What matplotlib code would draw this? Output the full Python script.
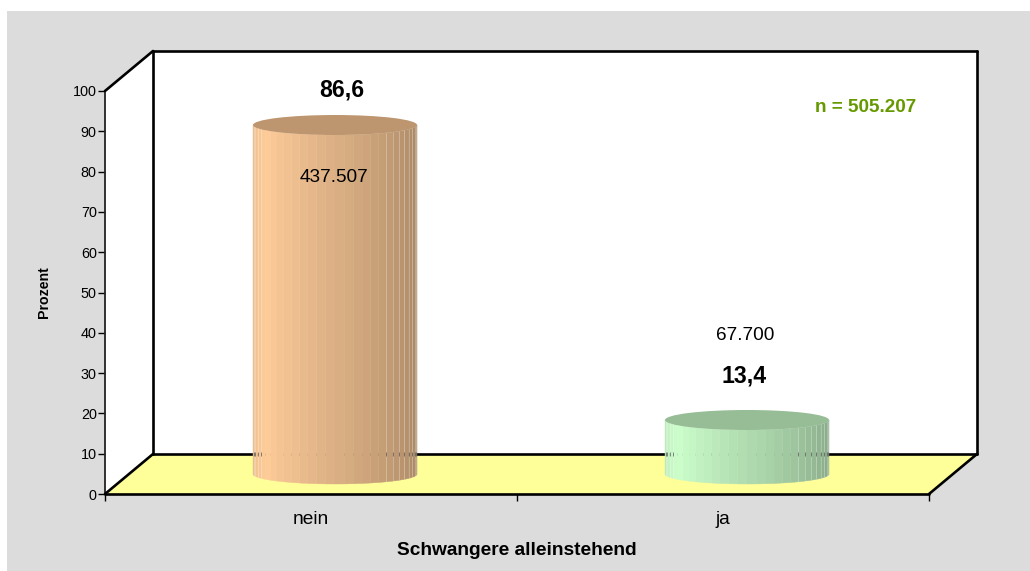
import numpy as np
import matplotlib
matplotlib.use('Agg')
import matplotlib.pyplot as plt
from matplotlib.patches import Rectangle, Polygon, Ellipse

categories = ['nein', 'ja']
percent = [86.6, 13.4]
percent_labels = ['86,6', '13,4']
count_labels = ['437.507', '67.700']
y_ticks = [0, 10, 20, 30, 40, 50, 60, 70, 80, 90, 100]
total_label = 'n = 505.207'

W, H = 1030, 571
plt.rcParams['font.family'] = ['Liberation Sans', 'DejaVu Sans']

# front plane of the fake 3d box, in pixels
left, right, top, bottom = 105, 929, 91, 494
depth_px = 48, 40

side_colors = [(255, 204, 153), (204, 255, 204)]
cap_colors = ['#bd9670', '#96bd96']


def shade(base, t):
    # t runs from 0 (right edge) to pi (left edge)
    p = t / np.pi
    if p > 0.82:
        f = 1 - 0.55 * (p - 0.82)
    else:
        f = 0.64 + 0.36 * p / 0.82
    return tuple(c / 255 * f for c in base)


def draw_cylinder(ax, x, val, base, cap, rx, ry, dy, back):
    # rx in category units, ry in percent units
    angles = np.linspace(0, np.pi, 29)
    for a, b in zip(angles[:-1], angles[1:]):
        ts = np.linspace(a, b, 4)
        xs = x + rx * np.cos(ts)
        low = dy - ry * np.sin(ts)
        high = val + dy - ry * np.sin(ts)
        pts = list(zip(xs, low)) + list(zip(xs[::-1], high[::-1]))
        col = shade(base, (a + b) / 2)
        ax.add_patch(Polygon(pts, closed=True, fc=col, ec=col, lw=0.3, zorder=5, clip_on=False))
    # thin light seams and the back line showing through them, near the edges
    for a in angles[1:-1]:
        if a < np.pi * 0.32 or a > np.pi * 0.85:
            sx = x + rx * np.cos(a)
            ax.plot([sx, sx], [dy - ry * np.sin(a), val + dy - ry * np.sin(a)], color='white',
                    alpha=0.3, lw=0.6, zorder=5.5, clip_on=False)
            if back <= val + dy:
                ax.plot([sx], [back], marker='|', ms=2.5, mew=0.7, color='#555555', alpha=0.7,
                        zorder=5.6, clip_on=False)
    ax.add_patch(Ellipse((x, val + dy), 2 * rx, 2 * ry, fc=cap, ec='none', zorder=6, clip_on=False))


fig = plt.figure(figsize=(W / 100, H / 100), dpi=100, facecolor='white')
fig.add_artist(Rectangle((7 / W, 0), 1 - 7 / W, 1 - 11 / H, transform=fig.transFigure,
                         fc='#dcdcdc', ec='none', zorder=-5))

ax = fig.add_axes([left / W, 1 - bottom / H, (right - left) / W, (bottom - top) / H])
ax.set_xlim(0, len(categories))
ax.set_ylim(0, 100)
ax.patch.set_alpha(0)

n = len(categories)
dx = depth_px[0] / ((right - left) / n)
dy = depth_px[1] / ((bottom - top) / 100)

# side wall, back wall, floor
ax.add_patch(Polygon([(0, 0), (dx, dy), (dx, 100 + dy), (0, 100)], fc='white', ec='none', clip_on=False, zorder=1))
ax.add_patch(Polygon([(dx, dy), (n + dx, dy), (n + dx, 100 + dy), (dx, 100 + dy)], fc='white', ec='none',
                     clip_on=False, zorder=1))
ax.add_patch(Polygon([(0, 0), (n, 0), (n + dx, dy), (dx, dy)], fc='#ffff99', ec='none', clip_on=False, zorder=2))

box_lines = [
    ([0, dx], [100, 100 + dy]),
    ([dx, n + dx], [100 + dy, 100 + dy]),
    ([n + dx, n + dx], [100 + dy, dy]),
    ([dx, dx], [100 + dy, dy]),
    ([dx, n + dx], [dy, dy]),
    ([0, dx], [0, dy]),
    ([n, n + dx], [0, dy]),
    ([0, n], [0, 0]),
]
for xs, ys in box_lines:
    ax.plot(xs, ys, color='black', lw=1.9, solid_capstyle='round', clip_on=False, zorder=3)

rx = 82 / ((right - left) / n)
ry = 10 / ((bottom - top) / 100)
for i, val in enumerate(percent):
    draw_cylinder(ax, i + 0.5 + dx / 2, val, side_colors[i], cap_colors[i], rx, ry, dy / 2, dy)

for s in ['top', 'right', 'bottom']:
    ax.spines[s].set_visible(False)
ax.spines['left'].set_linewidth(1.3)
ax.spines['left'].set_color('#222222')

ax.set_yticks(y_ticks)
ax.set_xticks(range(n + 1))
ax.set_xticklabels([])
ax.set_xticks(np.arange(n) + 0.5, categories, minor=True)
ax.tick_params(axis='x', which='minor', length=0, labelsize=13.8, pad=12)
ax.tick_params(axis='x', which='major', length=5, width=1)
ax.tick_params(axis='y', length=5, width=1, labelsize=10.4, pad=1)

ax.set_xlabel('Schwangere alleinstehend', fontsize=13.75, fontweight='bold', labelpad=10)
ax.set_ylabel('Prozent', fontsize=10.2, fontweight='bold', labelpad=16)

fig.text(341.5 / W, 1 - 90 / H, percent_labels[0], fontsize=16.7, fontweight='bold', ha='center', va='center', zorder=10)
fig.text(334 / W, 1 - 177 / H, count_labels[0], fontsize=13.7, ha='center', va='center', zorder=10)
fig.text(745 / W, 1 - 335 / H, count_labels[1], fontsize=13.7, ha='center', va='center', zorder=10)
fig.text(744 / W, 1 - 376 / H, percent_labels[1], fontsize=16.7, fontweight='bold', ha='center', va='center', zorder=10)
fig.text(866 / W, 1 - 108 / H, total_label, fontsize=13.6, fontweight='bold', color='#669900',
         ha='center', va='center', zorder=10)

fig.savefig('out.png', dpi=100, facecolor=fig.get_facecolor())
